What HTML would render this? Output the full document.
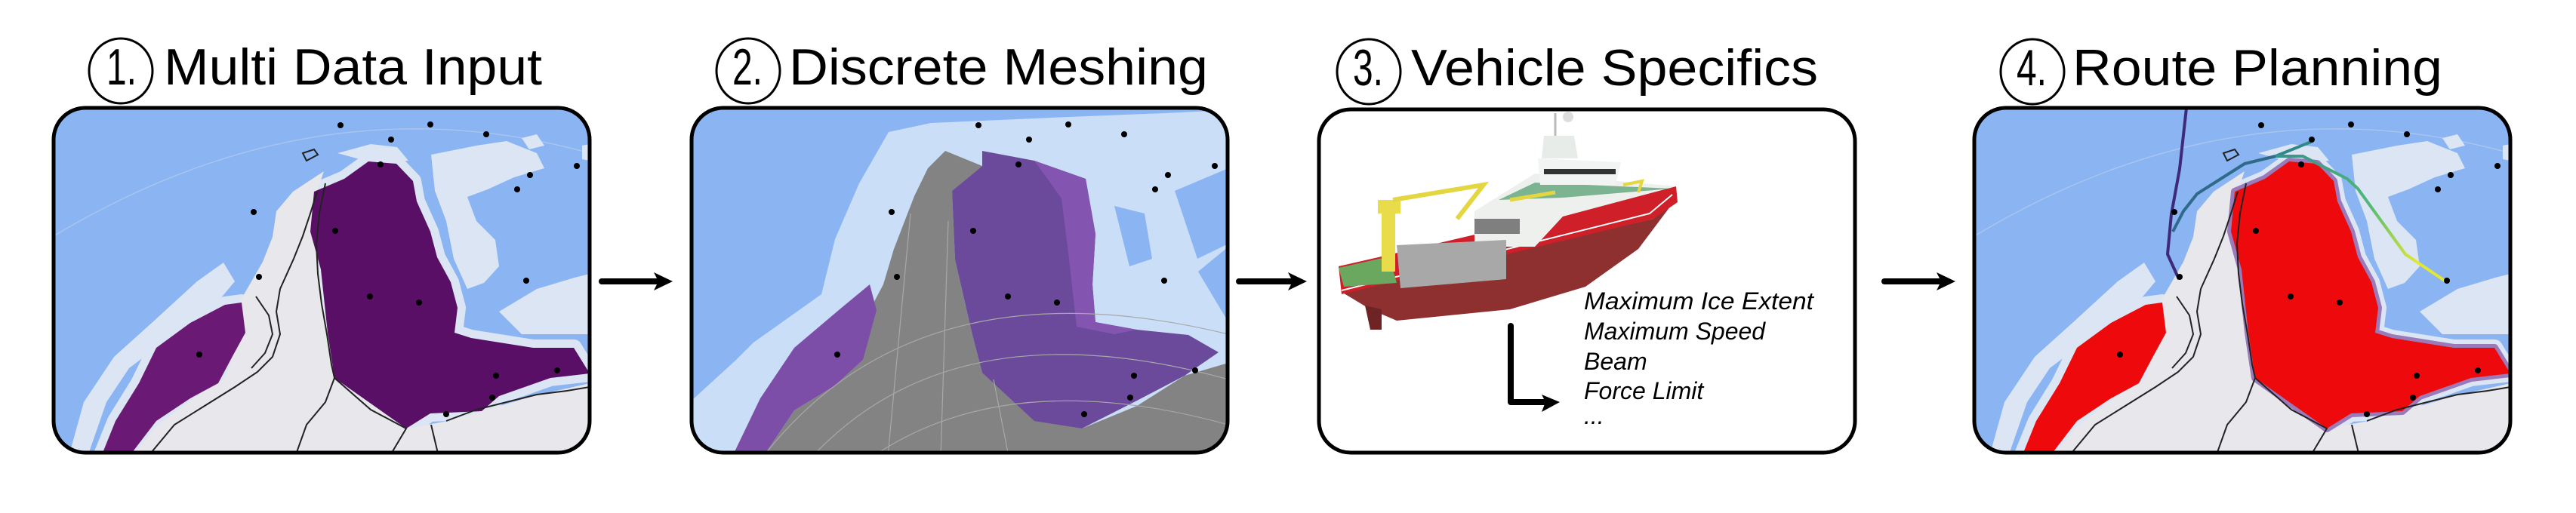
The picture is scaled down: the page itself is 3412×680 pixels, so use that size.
<!DOCTYPE html>
<html><head><meta charset="utf-8"><style>
html,body{margin:0;padding:0;background:#fff;}
svg{display:block;}
text{font-family:"Liberation Sans",sans-serif;}
</style></head><body>
<svg width="3412" height="680" viewBox="0 0 3412 680" xmlns="http://www.w3.org/2000/svg">
<defs>
<clipPath id="cp"><rect x="0" y="0" width="710" height="457" rx="42"/></clipPath>
<linearGradient id="rg" x1="0" y1="0" x2="1" y2="0.4">
<stop offset="0" stop-color="#3b8f8c"/><stop offset="0.6" stop-color="#4fb878"/><stop offset="1" stop-color="#e0e830"/></linearGradient>
<polygon id="land" points="358,84 317,111 295,137 290,171 277,204 254,244 236,275 245,308 227,358 181,388 136,422 104,462 710,462 710,365 635,382 567,402 522,415 467,425 372,358 363,298 354,231 345,158 349,111"/>
<g id="clouds">
<polygon points="500,62 560,50 600,44 640,60 650,80 610,92 575,108 548,118 560,150 585,175 590,210 570,232 548,240 530,200 520,150 505,110"/>
<polygon points="590,270 640,240 690,225 710,220 710,300 660,300 620,300"/>
<polygon points="376,60 420,48 455,52 470,70 420,72"/>
<polygon points="620,40 640,35 650,50 630,55"/>
<polygon points="700,50 710,48 710,70 700,68"/>
<polygon points="190,230 225,205 240,230 215,260 180,290 140,315 100,345 70,390 45,462 20,462 40,390 80,330 130,285"/>
</g>
<polygon id="ice" points="345,111 385,94 417,71 454,74 476,97 481,124 499,164 508,198 526,231 535,265 531,298 553,305 635,318 689,318 710,352 658,358 590,382 567,402 499,405 467,425 372,358 363,298 354,214 340,164"/>
<polygon id="iceL" points="227,261 249,258 254,298 236,331 218,365 181,385 136,415 100,462 63,462 82,415 113,365 136,318 181,285"/>
<g id="coast" fill="none" stroke="#222" stroke-width="2">
<path d="M349,111 L340,140 L330,170 L318,200 L300,240 L295,270 L300,300 L290,330 L270,350 L240,370 L200,395 L160,420 L125,462"/>
<path d="M360,100 L352,140 L348,180 L350,220 L355,260 L362,300 L368,340 L372,358 L360,390 L335,420 L320,462"/>
<path d="M372,358 L420,400 L467,425 L445,462"/>
<path d="M520,415 L560,400 L600,390 L640,380 L680,375 L710,370"/>
<path d="M500,420 L510,462"/>
<path d="M268,250 L285,275 L290,300 L280,325 L262,345"/>
<path d="M330,60 L345,55 L350,62 L335,70 Z"/>
</g>
<g id="dots" fill="#000">
<circle cx="380" cy="23" r="4"/><circle cx="499" cy="22" r="4"/><circle cx="573" cy="35" r="4"/><circle cx="447" cy="42" r="4"/><circle cx="433" cy="75" r="4"/><circle cx="693" cy="77" r="4"/><circle cx="631" cy="89" r="4"/><circle cx="614" cy="108" r="4"/><circle cx="265" cy="138" r="4"/><circle cx="373" cy="163" r="4"/><circle cx="272" cy="224" r="4"/><circle cx="626" cy="229" r="4"/><circle cx="419" cy="250" r="4"/><circle cx="484" cy="258" r="4"/><circle cx="193" cy="327" r="4"/><circle cx="586" cy="355" r="4"/><circle cx="667" cy="348" r="4"/><circle cx="581" cy="384" r="4"/><circle cx="520" cy="406" r="4"/>
</g>
</defs>

<!-- Titles -->
<g fill="none" stroke="#000" stroke-width="3">
<ellipse cx="160" cy="94" rx="42" ry="43"/>
<ellipse cx="991" cy="94" rx="42" ry="43"/>
<ellipse cx="1813" cy="95" rx="42" ry="43"/>
<ellipse cx="2692" cy="95" rx="42" ry="43"/>
</g>
<g font-size="68" fill="#000">
<text x="141" y="112" textLength="40" lengthAdjust="spacingAndGlyphs">1.</text>
<text x="217" y="112" textLength="501" lengthAdjust="spacingAndGlyphs">Multi Data Input</text>
<text x="970" y="112" textLength="40" lengthAdjust="spacingAndGlyphs">2.</text>
<text x="1045" y="112" textLength="555" lengthAdjust="spacingAndGlyphs">Discrete Meshing</text>
<text x="1792" y="113" textLength="40" lengthAdjust="spacingAndGlyphs">3.</text>
<text x="1869" y="113" textLength="539" lengthAdjust="spacingAndGlyphs">Vehicle Specifics</text>
<text x="2671" y="113" textLength="40" lengthAdjust="spacingAndGlyphs">4.</text>
<text x="2745" y="113" textLength="490" lengthAdjust="spacingAndGlyphs">Route Planning</text>
</g>

<!-- Panel 1 -->
<g transform="translate(71,143)">
<g clip-path="url(#cp)">
<rect width="710" height="457" fill="#8ab4f2"/>
<path d="M0,170 Q350,-40 710,60" fill="none" stroke="#a9c4ee" stroke-width="1.5"/>
<use href="#clouds" fill="#dbe5f4"/>
<use href="#ice" fill="#dbe5f4" stroke="#dbe5f4" stroke-width="22" stroke-linejoin="round"/>
<use href="#iceL" fill="#dbe5f4" stroke="#dbe5f4" stroke-width="22" stroke-linejoin="round"/>
<use href="#land" fill="#e7e7ec"/>
<use href="#ice" fill="#5a0f66"/>
<use href="#iceL" fill="#6a1a74"/>
<use href="#coast"/>
<use href="#dots"/>
</g>
<rect x="0" y="0" width="710" height="457" rx="42" fill="none" stroke="#000" stroke-width="5"/>
</g>

<!-- Arrow 1 -->
<g fill="#000"><line x1="797" y1="373" x2="875" y2="373" stroke="#000" stroke-width="8" stroke-linecap="round"/><polygon points="866,361 891,373 866,385 872,373"/></g>

<!-- Panel 2 -->
<g transform="translate(916,143)">
<g clip-path="url(#cp)">
<rect width="710" height="457" fill="#8ab4f2"/>
<polygon points="261,32 317,20 499,12 626,7 711,3 711,184 671,217 711,284 711,462 0,462 0,388 59,334 82,311 172,247 190,174 222,100" fill="#cadef8"/>
<polygon points="560,130 600,140 610,200 580,210" fill="#8ab4f2"/>
<polygon points="640,110 711,80 711,180 670,200" fill="#8ab4f2"/>
<polygon points="336,57 385,77 345,110 349,201 372,301 385,351 454,401 476,418 517,425 590,395 653,355 711,338 711,462 95,462 136,401 190,368 227,334 236,268 254,234 268,187 295,117 313,80" fill="#838383"/>
<polygon points="385,57 454,70 522,94 535,167 531,234 535,284 590,294 658,301 698,324 653,355 590,388 517,425 454,415 385,351 372,301 349,201 345,110 385,77" fill="#6b4a9c"/>
<polygon points="454,70 522,94 535,167 531,234 535,284 590,294 560,300 510,290 500,200 490,120" fill="#8455b0"/>
<polygon points="236,234 245,268 227,334 190,368 136,401 95,462 54,462 91,385 136,318 195,268" fill="#7c4ea8"/>
<g fill="none" stroke="#a8a8a8" stroke-width="1.2">
<path d="M95,462 Q300,200 711,300"/><path d="M160,462 Q350,260 711,360"/><path d="M240,462 Q420,340 711,420"/>
<line x1="290" y1="140" x2="260" y2="462"/><line x1="340" y1="150" x2="330" y2="462"/><line x1="400" y1="360" x2="420" y2="462"/>
</g>
<use href="#dots"/>
</g>
<rect x="0" y="0" width="710" height="457" rx="42" fill="none" stroke="#000" stroke-width="5"/>
</g>

<!-- Arrow 2 -->
<g fill="#000"><line x1="1641" y1="373" x2="1715" y2="373" stroke="#000" stroke-width="8" stroke-linecap="round"/><polygon points="1706,361 1731,373 1706,385 1712,373"/></g>

<!-- Panel 3 -->
<g transform="translate(1747,145)">
<rect x="0" y="0" width="710" height="455" rx="42" fill="#fff" stroke="#000" stroke-width="5"/>
</g>
<!-- Ship -->
<g>
<polygon points="1777,387 2190,290 2215,270 2170,330 2100,380 2000,410 1900,420 1850,425 1815,410" fill="#8e3030"/>
<polygon points="1808,405 1830,410 1830,437 1815,437" fill="#6e2424"/>
<polygon points="1773,353 1830,340 2000,300 2220,247 2222,268 2190,290 1777,390" fill="#cf1f28"/>
<polyline points="1777,385 2185,283 2215,258" fill="none" stroke="#fff" stroke-width="2"/>
<polygon points="1953,280 2033,230 2220,247 2070,287 2033,327 1953,327" fill="#eef0ee"/>
<polygon points="1985,265 2033,242 2215,250 2070,262" fill="#4c9a6a" opacity="0.7"/>
<polygon points="2037,210 2147,215 2140,245 2040,245" fill="#f2f4f4"/>
<rect x="2045" y="224" width="95" height="7" fill="#333"/>
<polygon points="2045,180 2085,180 2090,210 2042,210" fill="#e8ece8"/>
<line x1="2060" y1="150" x2="2060" y2="180" stroke="#bbb" stroke-width="3"/>
<circle cx="2077" cy="155" r="7" fill="#ddd"/>
<rect x="1953" y="290" width="60" height="20" fill="#333" opacity="0.6"/>
<polygon points="1773,355 1840,340 1850,375 1780,380" fill="#6aa860"/>
<polygon points="1850,325 1995,318 1995,370 1855,382" fill="#a8a8a8"/>
<rect x="1830" y="270" width="18" height="90" fill="#e8dc4a"/>
<rect x="1825" y="265" width="30" height="18" fill="#e8dc4a"/>
<polyline points="1845,265 1965,245 1930,290" fill="none" stroke="#e4d640" stroke-width="6"/>
<polyline points="2000,265 2060,255" fill="none" stroke="#e4d640" stroke-width="5"/>
<polyline points="2150,245 2175,240 2170,255" fill="none" stroke="#e4d640" stroke-width="4"/>
</g>
<!-- L arrow -->
<g>
<polyline points="2001,432 2001,533 2050,533" fill="none" stroke="#000" stroke-width="8" stroke-linecap="round" stroke-linejoin="round"/>
<polygon points="2042,523 2066,533 2042,546 2047,533"/>
</g>
<g font-size="32" font-style="italic" fill="#000">
<text x="2098" y="410" textLength="304" lengthAdjust="spacingAndGlyphs">Maximum Ice Extent</text>
<text x="2098" y="450">Maximum Speed</text>
<text x="2098" y="490">Beam</text>
<text x="2098" y="529">Force Limit</text>
<text x="2098" y="562">...</text>
</g>

<!-- Arrow 3 -->
<g fill="#000"><line x1="2496" y1="373" x2="2574" y2="373" stroke="#000" stroke-width="8" stroke-linecap="round"/><polygon points="2565,361 2590,373 2565,385 2571,373"/></g>

<!-- Panel 4 -->
<g transform="translate(2615,143)">
<g clip-path="url(#cp)">
<rect width="710" height="457" fill="#8ab4f2"/>
<path d="M0,170 Q350,-40 710,60" fill="none" stroke="#a9c4ee" stroke-width="1.5"/>
<use href="#clouds" fill="#dbe5f4"/>
<use href="#ice" fill="#dbe5f4" stroke="#dbe5f4" stroke-width="22" stroke-linejoin="round"/>
<use href="#iceL" fill="#dbe5f4" stroke="#dbe5f4" stroke-width="22" stroke-linejoin="round"/>
<use href="#land" fill="#e7e7ec"/>
<use href="#ice" fill="#9a7ab8" stroke="#9a7ab8" stroke-width="10" stroke-linejoin="round"/>
<use href="#ice" fill="#ee0a0c"/>
<use href="#iceL" fill="#ee0a0c"/>
<use href="#coast"/>
<polyline points="281,0 272,81 261,141 256,194 271,227" fill="none" stroke="#3f2a7a" stroke-width="4"/>
<polyline points="263,164 277,137 295,114 358,74 399,64" fill="none" stroke="#2f6a8a" stroke-width="4"/>
<polyline points="399,64 446,45" fill="none" stroke="#2e8a88" stroke-width="4"/>
<polyline points="399,64 435,64 494,94 508,107 571,194 626,231" fill="none" stroke="url(#rg)" stroke-width="4"/>
<use href="#dots"/>
</g>
<rect x="0" y="0" width="710" height="457" rx="42" fill="none" stroke="#000" stroke-width="5"/>
</g>
</svg>
</body></html>
